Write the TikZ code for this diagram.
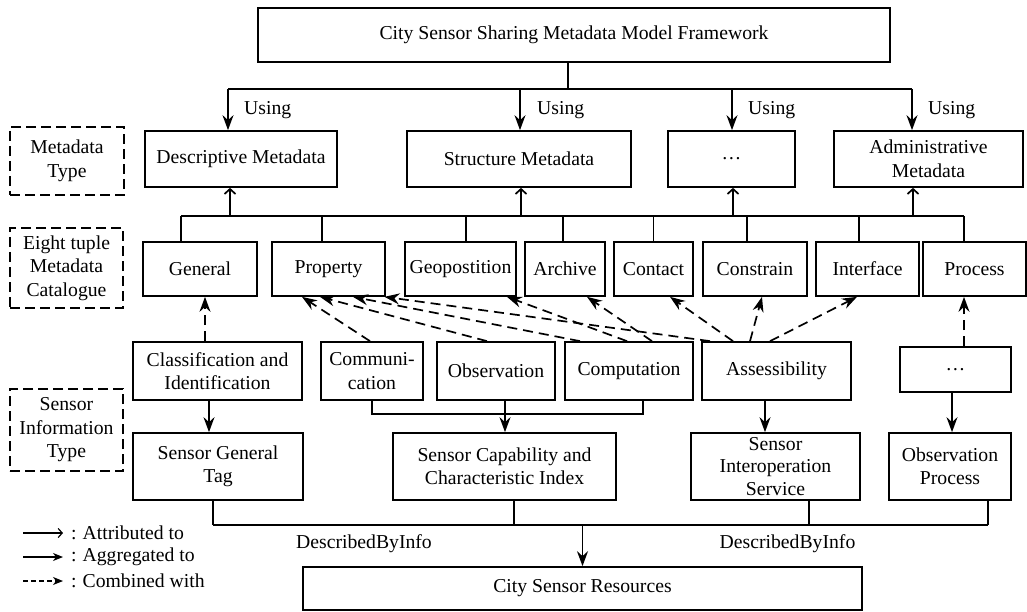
\documentclass[tikz,border=0pt]{standalone}
\usepackage{fontspec}
\setmainfont{Liberation Serif}
\usetikzlibrary{arrows.meta}
\newcommand\dfont{\fontsize{19.7}{23.5}\selectfont}
\tikzset{
  base/.style={line width=1.7pt},
  bx/.style={draw, line width=1.7pt, inner sep=0pt, align=center, font=\dfont},
  lblbox/.style={draw, line width=1.7pt, dash pattern=on 10pt off 5pt, inner sep=0pt, align=center, font=\dfont},
  txt/.style={inner sep=0pt, font=\dfont},
  using/.style={line width=1.7pt, -{Stealth[length=15pt,width=11pt,inset=5pt]}},
  attr/.style={line width=1.7pt, -{Straight Barb[length=5pt,width=11pt]}},
  comb/.style={using, dash pattern=on 10pt off 6pt},
}
\begin{document}
\begin{tikzpicture}[x=1pt,y=-1pt]
\useasboundingbox (0,0) rectangle (1027,612);
% top
\node[bx, minimum width=632pt, minimum height=54pt] (top) at (574,35) {City Sensor Sharing Metadata Model Framework};
% metadata type
\node[bx, minimum width=192pt, minimum height=56pt] (desc) at (241,159) {Descriptive Metadata};
\node[bx, minimum width=224pt, minimum height=56pt] (struct) at (519,159) {Structure Metadata};
\node[bx, minimum width=127pt, minimum height=56pt] (dotsa) at (731.5,159) {\dots};
\node[bx, minimum width=189pt, minimum height=56pt] (admin) at (928.5,159) {Administrative\\Metadata};
% left labels
\node[lblbox, minimum width=114pt, minimum height=68pt] (lt1) at (67,161) {Metadata\\Type};
\node[lblbox, minimum width=113pt, minimum height=80pt] (lt2) at (66.5,268) {Eight tuple\\Metadata\\Catalogue};
\node[lblbox, minimum width=113pt, minimum height=82pt] (lt3) at (66.5,430) {Sensor\\Information\\Type};
% catalogue
\node[bx, minimum width=114pt, minimum height=54pt] (general) at (200,269) {General};
\node[bx, minimum width=113pt, minimum height=54pt] (property) at (328.5,269) {Property};
\node[bx, minimum width=111pt, minimum height=54pt] (geo) at (460.5,269) {Geopostition};
\node[bx, minimum width=80pt, minimum height=54pt] (archive) at (565,269) {Archive};
\node[bx, minimum width=79pt, minimum height=54pt] (contact) at (653.5,269) {Contact};
\node[bx, minimum width=104pt, minimum height=54pt] (constrain) at (755,269) {Constrain};
\node[bx, minimum width=103pt, minimum height=54pt] (interface) at (867.5,269) {Interface};
\node[bx, minimum width=103pt, minimum height=54pt] (process) at (974.5,269) {Process};
% sensor info row 1
\node[bx, minimum width=169pt, minimum height=58pt] (classif) at (217.5,371) {Classification and\\Identification};
\node[bx, minimum width=102pt, minimum height=58pt] (comm) at (372,371) {Communi-\\cation};
\node[bx, minimum width=118pt, minimum height=58pt] (obs) at (496,371) {Observation};
\node[bx, minimum width=128pt, minimum height=58pt] (comp) at (629,371) {Computation};
\node[bx, minimum width=149pt, minimum height=58pt] (assess) at (776.5,371) {Assessibility};
\node[bx, minimum width=111pt, minimum height=45pt] (dotsb) at (955.5,369.5) {\dots};
% row 2
\node[bx, minimum width=170pt, minimum height=67pt] (sgt) at (218,466.5) {Sensor General\\Tag};
\node[bx, minimum width=223pt, minimum height=67pt] (scap) at (504.5,466.5) {Sensor Capability and\\Characteristic Index};
\node[bx, minimum width=169pt, minimum height=67pt, font=\fontsize{19.7}{22.5}\selectfont] (sis) at (775.5,466.5) {Sensor\\Interoperation\\Service};
\node[bx, minimum width=122pt, minimum height=67pt] (op) at (950,466.5) {Observation\\Process};
% resources
\node[bx, minimum width=559pt, minimum height=43pt] (res) at (582.5,588.5) {City Sensor Resources};

% top bus
\coordinate (b1) at (228,89);
\coordinate (b2) at (912,89);
\draw[base] (b1) -- (b2);
\draw[base] ([xshift=-6pt]top.south) -- ([xshift=-6pt]top.south |- b1);
\draw[using] ([xshift=-13pt]desc.north |- b1) -- ([xshift=-13pt]desc.north);
\draw[using] ([xshift=1pt]struct.north |- b1) -- ([xshift=1pt]struct.north);
\draw[using] ([xshift=0.5pt]dotsa.north |- b1) -- ([xshift=0.5pt]dotsa.north);
\draw[using] ([xshift=-16.5pt]admin.north |- b1) -- ([xshift=-16.5pt]admin.north);
\node[txt, anchor=west] (u1) at (244,110) {Using};
\node[txt, anchor=west] (u2) at (537,110) {Using};
\node[txt, anchor=west] (u3) at (748,110) {Using};
\node[txt, anchor=west] (u4) at (928,110) {Using};

% catalogue bus
\coordinate (c1) at (181,216);
\coordinate (c2) at (964,216);
\draw[base] (c1) -- (c2);
\draw[base] ([xshift=-19pt]general.north) -- ([xshift=-19pt]general.north |- c1);
\draw[base] ([xshift=-6.5pt]property.north) -- ([xshift=-6.5pt]property.north |- c1);
\draw[base] ([xshift=5.5pt]geo.north) -- ([xshift=5.5pt]geo.north |- c1);
\draw[base] ([xshift=-2pt]archive.north) -- ([xshift=-2pt]archive.north |- c1);
\draw[base] (contact.north) -- (contact.north |- c1);
\draw[base] ([xshift=-8pt]constrain.north) -- ([xshift=-8pt]constrain.north |- c1);
\draw[base] ([xshift=-8.5pt]interface.north) -- ([xshift=-8.5pt]interface.north |- c1);
\draw[base] ([xshift=-10.5pt]process.north) -- ([xshift=-10.5pt]process.north |- c1);
\draw[attr] ([xshift=-11pt]desc.south |- c1) -- ([xshift=-11pt]desc.south);
\draw[attr] ([xshift=2pt]struct.south |- c1) -- ([xshift=2pt]struct.south);
\draw[attr] ([xshift=1.5pt]dotsa.south |- c1) -- ([xshift=1.5pt]dotsa.south);
\draw[attr] ([xshift=-15.5pt]admin.south |- c1) -- ([xshift=-15.5pt]admin.south);

% combined with
\draw[comb] ([xshift=-12.5pt]classif.north) -- ([xshift=5pt]general.south);
\draw[comb] ([xshift=-2pt]comm.north) -- ([xshift=-26.5pt]property.south);
\draw[comb] ([xshift=-9pt]obs.north) -- ([xshift=-8.5pt]property.south);
\draw[comb] ([xshift=-49pt]comp.north) -- ([xshift=24.5pt]property.south);
\draw[comb] ([xshift=-66.5pt]assess.north) -- ([xshift=56pt]property.south);
\draw[comb] ([xshift=-2pt]comp.north) -- ([xshift=46.5pt]geo.south);
\draw[comb] ([xshift=23pt]comp.north) -- ([xshift=22pt]archive.south);
\draw[comb] ([xshift=-43.5pt]assess.north) -- ([xshift=16.5pt]contact.south);
\draw[comb] ([xshift=-26.5pt]assess.north) -- ([xshift=7pt]constrain.south);
\draw[comb] ([xshift=-6.5pt]assess.north) -- ([xshift=-10.5pt]interface.south);
\draw[comb] ([xshift=8.5pt]dotsb.north) -- ([xshift=-10.5pt]process.south);

% aggregated
\draw[using] ([xshift=-8.5pt]classif.south) -- ([xshift=-8.5pt]classif.south |- sgt.north);
\draw[base] (comm.south) -- ++(0,13) -| ([xshift=14pt]comp.south);
\draw[using] ([xshift=9pt]obs.south) -- ([xshift=9pt]obs.south |- scap.north);
\draw[using] ([xshift=-11.5pt]assess.south) -- ([xshift=-11.5pt]assess.south |- sis.north);
\draw[using] ([xshift=-3.5pt]dotsb.south) -- ([xshift=-3.5pt]dotsb.south |- op.north);

% bottom bus
\coordinate (d1) at (213,525);
\coordinate (d2) at (988,525);
\draw[base] (d1) -- (d2);
\draw[base] ([xshift=-5pt]sgt.south) -- ([xshift=-5pt]sgt.south |- d1);
\draw[base] ([xshift=9.5pt]scap.south) -- ([xshift=9.5pt]scap.south |- d1);
\draw[base] ([xshift=33.5pt]sis.south) -- ([xshift=33.5pt]sis.south |- d1);
\draw[base] ([xshift=38pt]op.south) -- ([xshift=38pt]op.south |- d1);
\draw[using] (res.north |- d1) -- (res.north);
\node[txt] (dl1) at (364,544) {DescribedByInfo};
\node[txt] (dl2) at (787.5,544) {DescribedByInfo};

% legend
\coordinate (l1a) at (23,533); \coordinate (l1b) at (63,533);
\coordinate (l2a) at (23,557); \coordinate (l2b) at (63,557);
\coordinate (l3a) at (23,581); \coordinate (l3b) at (63,581);
\draw[line width=1.2pt, -{Straight Barb[length=4pt,width=9pt]}] (l1a) -- (l1b);
\draw[line width=1.2pt, -{Stealth[length=10pt,width=8pt,inset=3pt]}] (l2a) -- (l2b);
\draw[line width=1.2pt, dash pattern=on 5pt off 3pt, -{Stealth[length=10pt,width=8pt,inset=3pt]}] (l3a) -- (l3b);
\node[txt, anchor=west] (t1) at (71,533) {:\hspace{6pt}Attributed to};
\node[txt, anchor=west] (t2) at (71,557) {:\hspace{6pt}Aggregated to};
\node[txt, anchor=west] (t3) at (71,581) {:\hspace{6pt}Combined with};
\end{tikzpicture}
\end{document}
